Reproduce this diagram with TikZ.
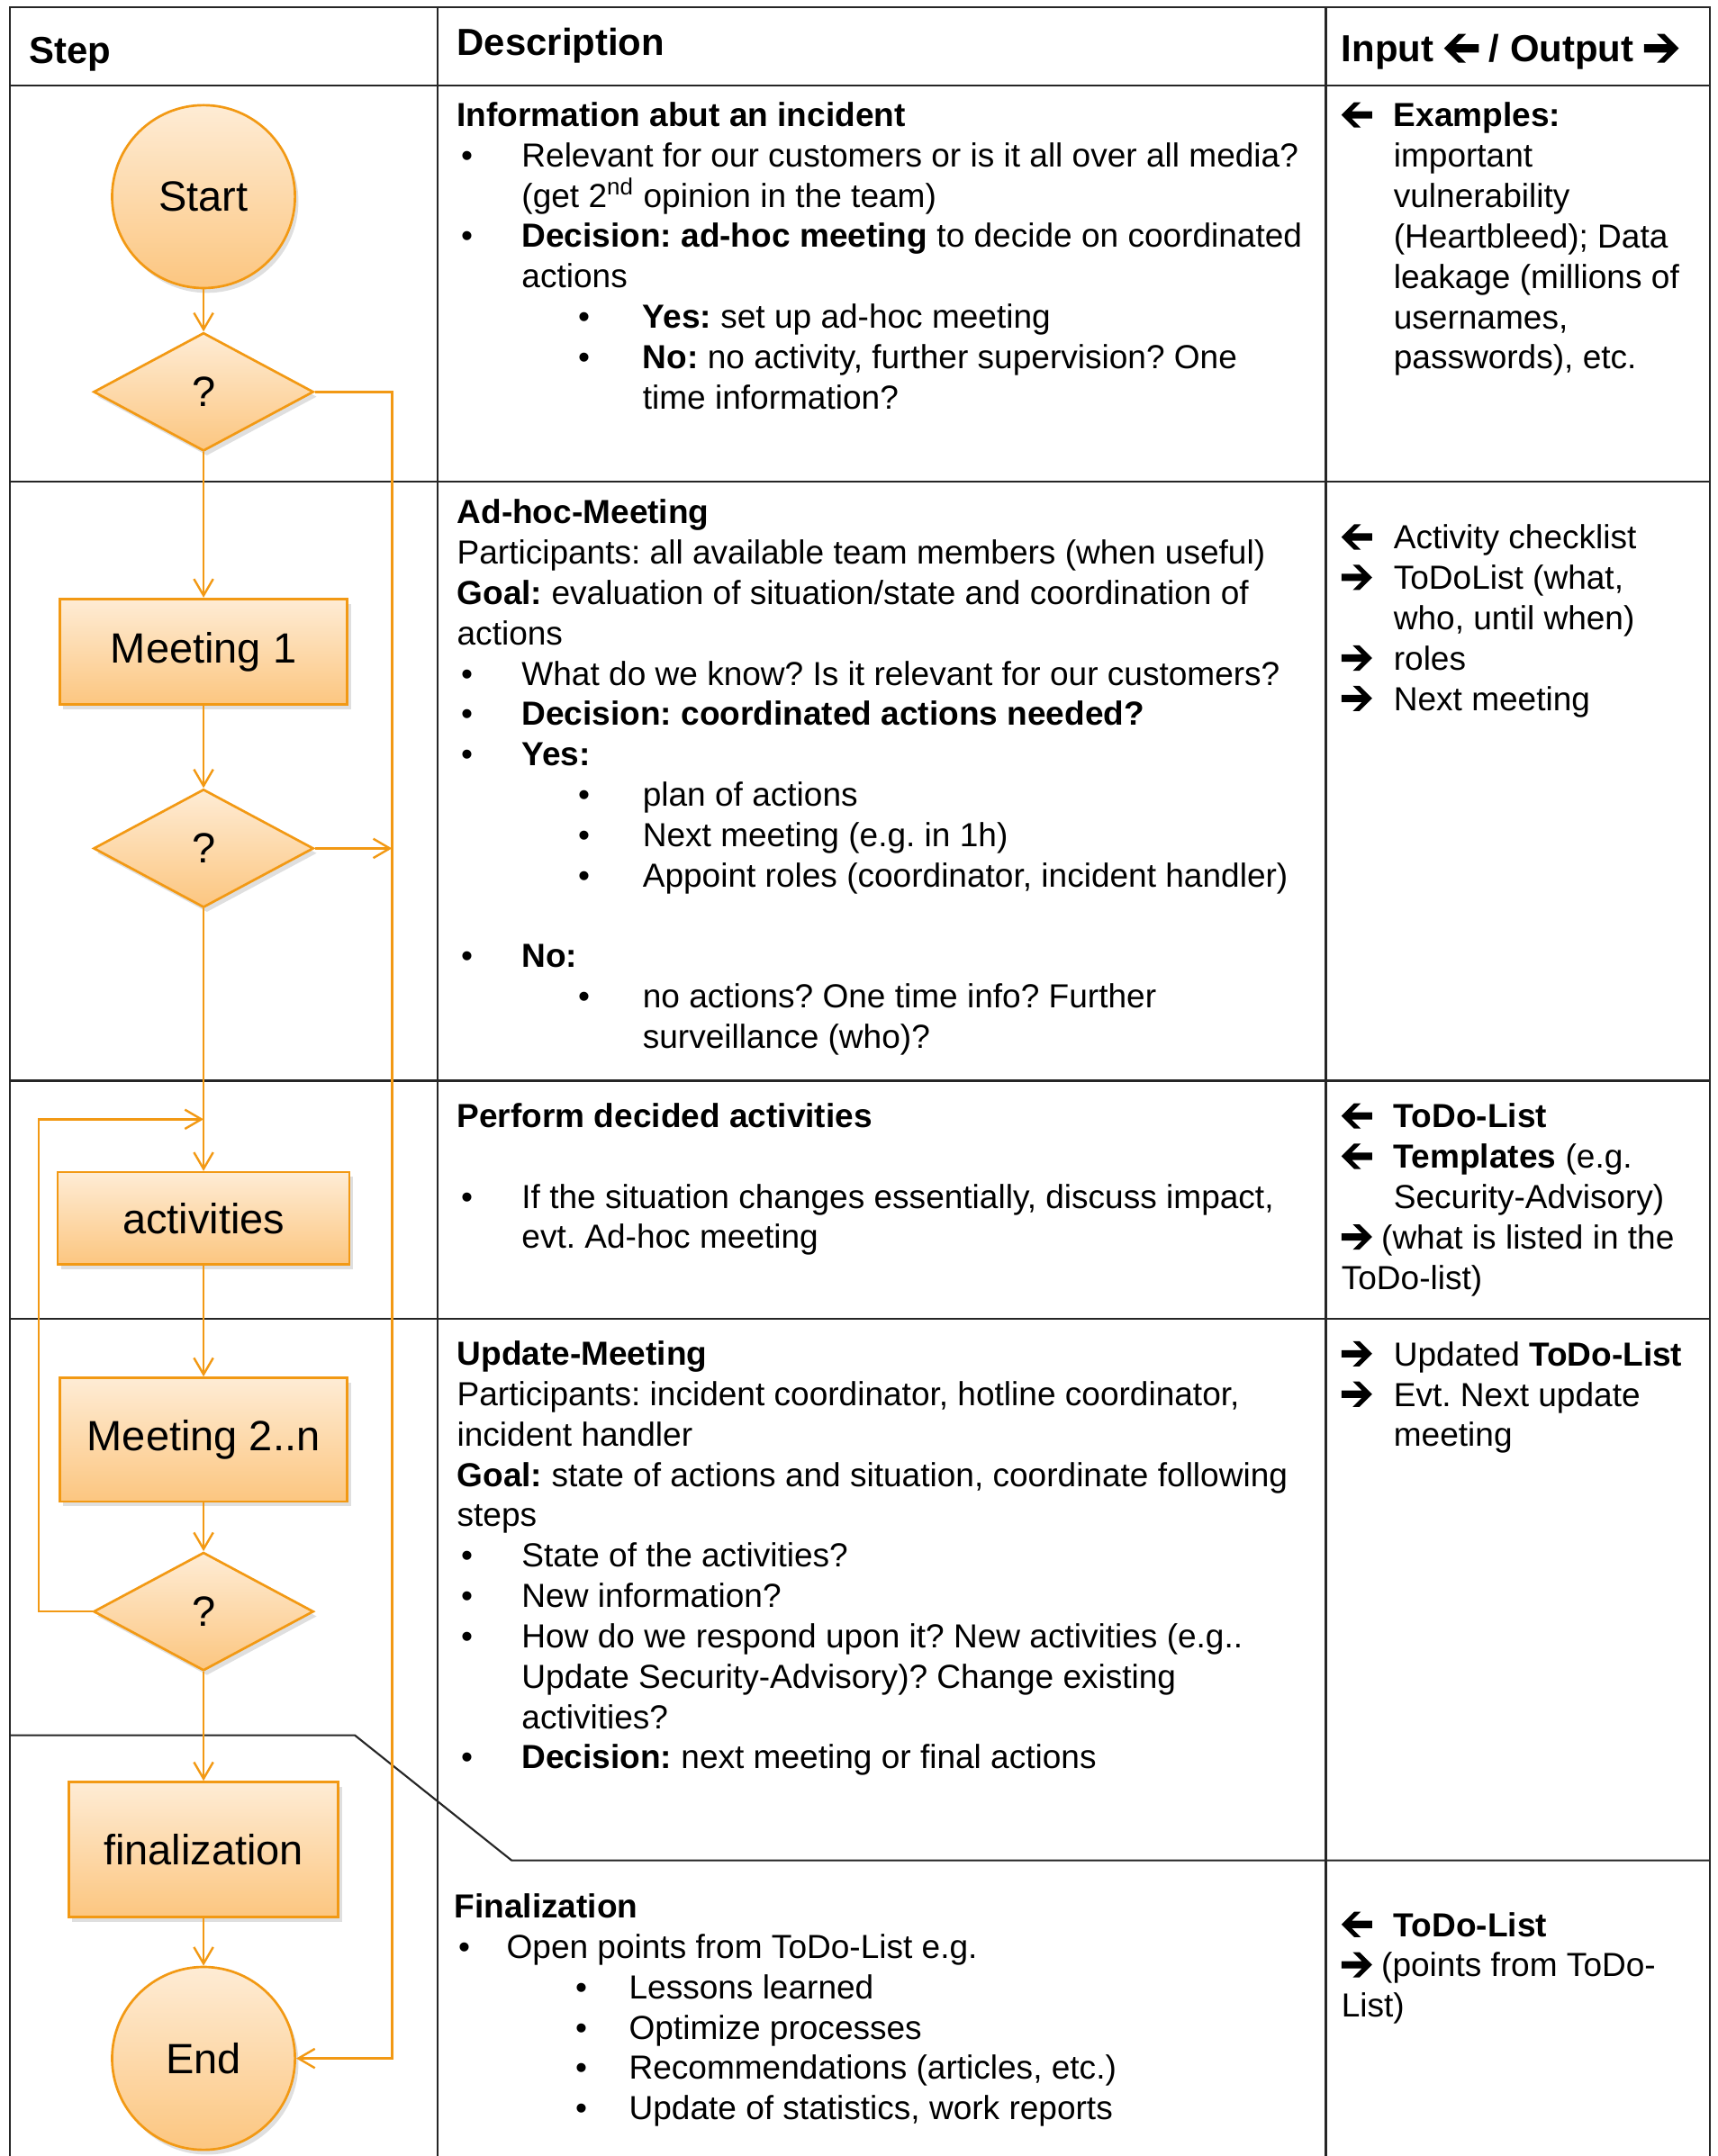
\documentclass[tikz,border=0pt]{standalone}
\usepackage{fontspec}
\setmainfont{Liberation Sans}
\usepackage{tikz}
\usetikzlibrary{positioning, shapes.geometric, arrows, arrows.meta, shadows}
\frenchspacing

\definecolor{floworange}{RGB}{242,153,20}
\definecolor{fillhigh}{RGB}{254,236,213}
\definecolor{filllow}{RGB}{252,198,128}

\newcommand{\arrR}{\tikz[baseline=-0.36em, x=1em, y=1em]\fill (0,0.11) -- (0.61,0.11) -- (0.34,0.38) -- (0.54,0.38) -- (0.92,0) -- (0.54,-0.38) -- (0.34,-0.38) -- (0.61,-0.11) -- (0,-0.11) -- cycle;}
\newcommand{\arrL}{\tikz[baseline=-0.36em, x=-1em, y=1em]\fill (0,0.11) -- (0.61,0.11) -- (0.34,0.38) -- (0.54,0.38) -- (0.92,0) -- (0.54,-0.38) -- (0.34,-0.38) -- (0.61,-0.11) -- (0,-0.11) -- cycle;}
\newcommand{\bul}[2]{\hspace*{#1}\makebox[#2][l]{\textbullet}}
\newcommand{\bulA}{\bul{0.06cm}{0.88cm}}
\newcommand{\bulB}{\bul{1.76cm}{0.94cm}}
\newcommand{\indA}{\hspace*{0.94cm}}
\newcommand{\indB}{\hspace*{2.70cm}}
\newcommand{\inArr}{\makebox[0.76cm][l]{\arrL}}
\newcommand{\outArr}{\makebox[0.76cm][l]{\arrR}}
\newcommand{\indIO}{\hspace*{0.76cm}}

\begin{document}
\begin{tikzpicture}[
    grid/.style={draw=black!85, line width=0.8pt},
    flow/.style={draw=floworange, line width=0.9pt},
    >={Straight Barb[length=2.4mm, width=2.8mm]},
    flowshape/.style={draw=floworange, line width=1pt, top color=fillhigh, bottom color=filllow,
        drop shadow={shadow xshift=0.05cm, shadow yshift=-0.07cm, opacity=0.25},
        inner sep=0pt, font=\fontsize{17.5pt}{20pt}\selectfont},
    terminal/.style={flowshape, circle, minimum size=2.66cm},
    decision/.style={flowshape, diamond, minimum width=3.2cm, minimum height=1.72cm},
    stepbox/.style={flowshape, rectangle, minimum width=4.18cm},
    head/.style={anchor=base west, inner sep=0pt, font=\fontsize{15.6pt}{18pt}\selectfont\bfseries},
    txt/.style={anchor=north west, inner sep=0pt, align=left, font=\fontsize{13.8pt}{16.7pt}\selectfont\frenchspacing}
]
    \useasboundingbox (0,0) rectangle (24.98,-31.36);

    \draw[grid] (0.14,-31.36) -- (0.14,-0.10) -- (24.86,-0.10) -- (24.86,-31.36);
    \draw[grid] (6.36,-0.10) -- (6.36,-31.36);
    \draw[grid] (19.28,-0.10) -- (19.28,-31.36);
    \draw[grid] (0.14,-1.24) -- (24.86,-1.24);
    \draw[grid] (0.14,-7.00) -- (24.86,-7.00);
    \draw[grid] (0.14,-15.72) -- (24.86,-15.72);
    \draw[grid] (0.14,-19.18) -- (24.86,-19.18);
    \draw[grid] (0.14,-25.24) -- (5.16,-25.24) -- (7.44,-27.06) -- (24.86,-27.06);

    \node[head] (step_head) at (0.42,-0.92) {Step};
    \node[head] (desc_head) at (6.64,-0.80) {Description};
    \node[head] (io_head) at (19.50,-0.90) {Input \arrL{} / Output \arrR};

    \node[terminal] (start) at (2.96,-2.86) {Start};
    \node[decision] (q1) at (2.96,-5.70) {?};
    \node[stepbox, minimum height=1.54cm] (meeting_1) at (2.96,-9.48) {Meeting 1};
    \node[decision] (q2) at (2.96,-12.34) {?};
    \node[stepbox, minimum width=4.24cm, minimum height=1.34cm] (activities) at (2.96,-17.72) {activities};
    \node[stepbox, minimum height=1.8cm] (meeting_n) at (2.96,-20.94) {Meeting 2..n};
    \node[decision] (q3) at (2.96,-23.44) {?};
    \node[stepbox, minimum width=3.92cm, minimum height=1.96cm] (finalization) at (2.96,-26.90) {finalization};
    \node[terminal] (stop) at (2.96,-29.94) {End};

    \coordinate (rail) at (5.70,-5.70);
    \coordinate (loop) at (0.56,-16.28);

    \draw[flow,->] (start) -- (q1);
    \draw[flow,->] (q1) -- (meeting_1);
    \draw[flow,->] (meeting_1) -- (q2);
    \draw[flow,->] (q2) -- (activities);
    \draw[flow,->] (activities) -- (meeting_n);
    \draw[flow,->] (meeting_n) -- (q3);
    \draw[flow,->] (q3) -- (finalization);
    \draw[flow,->] (finalization) -- (stop);
    \draw[flow,->] (q1.east) -- (rail) |- (stop.east);
    \draw[flow,->] (q2.east) -- (q2.east -| rail);
    \draw[flow,->] (q3.west) -| (loop) -- (loop -| activities);

    \node[txt] (desc_info) at (6.64,-1.48) {\textbf{Information abut an incident}\\
        \bulA Relevant for our customers or is it all over all media?\\
        \indA (get 2\textsuperscript{nd} opinion in the team)\\
        \bulA \textbf{Decision: ad-hoc meeting} to decide on coordinated\\
        \indA actions\\
        \bulB \textbf{Yes:} set up ad-hoc meeting\\
        \bulB \textbf{No:} no activity, further supervision? One\\
        \indB time information?};
    \node[txt] (io_info) at (19.50,-1.48) {\inArr\textbf{Examples:}\\
        \indIO important\\
        \indIO vulnerability\\
        \indIO (Heartbleed); Data\\
        \indIO leakage (millions of\\
        \indIO usernames,\\
        \indIO passwords), etc.};

    \node[txt] (desc_adhoc) at (6.64,-7.26) {\textbf{Ad-hoc-Meeting}\\
        Participants: all available team members (when useful)\\
        \textbf{Goal:} evaluation of situation/state and coordination of\\
        actions\\
        \bulA What do we know? Is it relevant for our customers?\\
        \bulA \textbf{Decision: coordinated actions needed?}\\
        \bulA \textbf{Yes:}\\
        \bulB plan of actions\\
        \bulB Next meeting (e.g. in 1h)\\
        \bulB Appoint roles (coordinator, incident handler)\\[16.7pt]
        \bulA \textbf{No:}\\
        \bulB no actions? One time info? Further\\
        \indB surveillance (who)?};
    \node[txt] (io_adhoc) at (19.50,-7.62) {\inArr Activity checklist\\
        \outArr ToDoList (what,\\
        \indIO who, until when)\\
        \outArr roles\\
        \outArr Next meeting};

    \node[txt] (desc_perform) at (6.64,-16.04) {\textbf{Perform decided activities}\\[16.7pt]
        \bulA If the situation changes essentially, discuss impact,\\
        \indA evt. Ad-hoc meeting};
    \node[txt] (io_perform) at (19.50,-16.04) {\inArr\textbf{ToDo-List}\\
        \inArr\textbf{Templates} (e.g.\\
        \indIO Security-Advisory)\\
        \arrR{} (what is listed in the\\
        ToDo-list)};

    \node[txt] (desc_update) at (6.64,-19.50) {\textbf{Update-Meeting}\\
        Participants: incident coordinator, hotline coordinator,\\
        incident handler\\
        \textbf{Goal:} state of actions and situation, coordinate following\\
        steps\\
        \bulA State of the activities?\\
        \bulA New information?\\
        \bulA How do we respond upon it? New activities (e.g..\\
        \indA Update Security-Advisory)? Change existing\\
        \indA activities?\\
        \bulA \textbf{Decision:} next meeting or final actions};
    \node[txt] (io_update) at (19.50,-19.50) {\outArr Updated \textbf{ToDo-List}\\
        \outArr Evt. Next update\\
        \indIO meeting};

    \node[txt] (desc_final) at (6.60,-27.54) {\textbf{Finalization}\\
        \bul{0.06cm}{0.70cm}Open points from ToDo-List e.g.\\
        \bul{1.76cm}{0.78cm}Lessons learned\\
        \bul{1.76cm}{0.78cm}Optimize processes\\
        \bul{1.76cm}{0.78cm}Recommendations (articles, etc.)\\
        \bul{1.76cm}{0.78cm}Update of statistics, work reports};
    \node[txt] (io_final) at (19.50,-27.80) {\inArr\textbf{ToDo-List}\\
        \arrR{} (points from ToDo-\\
        List)};
\end{tikzpicture}
\end{document}
